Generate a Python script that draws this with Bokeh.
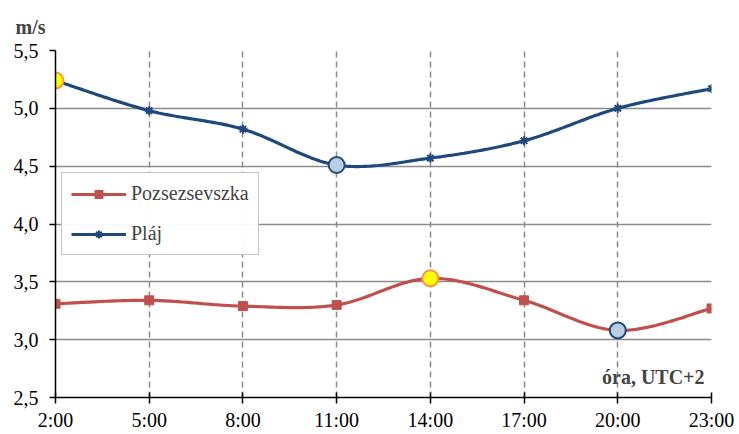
import numpy as np
from bokeh.plotting import figure
from bokeh.models import Range1d, FixedTicker, Label, Legend, LegendItem, ColumnDataSource
from bokeh.embed import file_html
from bokeh.resources import INLINE

hours = [2, 5, 8, 11, 14, 17, 20, 23]
hour_labels = ["2:00", "5:00", "8:00", "11:00", "14:00", "17:00", "20:00", "23:00"]
pozsezsevszka = [3.31, 3.34, 3.29, 3.30, 3.53, 3.34, 3.08, 3.27]
plaj = [5.24, 4.98, 4.82, 4.51, 4.57, 4.72, 5.00, 5.17]
y_ticks = [2.5, 3.0, 3.5, 4.0, 4.5, 5.0, 5.5]
y_labels = ["2,5", "3,0", "3,5", "4,0", "4,5", "5,0", "5,5"]

FONT = "Liberation Serif"
FS = "20px"
RED = "#C0504D"
BLUE = "#1F497D"


def smooth(xs, ys, n=40):
    # Excel-like smoothed line: Catmull-Rom style Bezier segments
    xs = np.asarray(xs, float)
    ys = np.asarray(ys, float)
    px = np.concatenate([[xs[0]], xs, [xs[-1]]])
    py = np.concatenate([[ys[0]], ys, [ys[-1]]])
    outx, outy = [], []
    t = np.linspace(0, 1, n)
    for i in range(1, len(px) - 2):
        p0 = np.array([px[i], py[i]])
        p3 = np.array([px[i + 1], py[i + 1]])
        c1 = p0 + (np.array([px[i + 1], py[i + 1]]) - np.array([px[i - 1], py[i - 1]])) / 6.0
        c2 = p3 - (np.array([px[i + 2], py[i + 2]]) - np.array([px[i], py[i]])) / 6.0
        b = ((1 - t) ** 3)[:, None] * p0 + (3 * (1 - t) ** 2 * t)[:, None] * c1 \
            + (3 * (1 - t) * t ** 2)[:, None] * c2 + (t ** 3)[:, None] * p3
        outx.extend(b[:, 0])
        outy.extend(b[:, 1])
    return outx, outy


p = figure(width=739, height=434, output_backend="svg", toolbar_location=None,
           x_range=Range1d(2, 23), y_range=Range1d(2.5, 5.5),
           min_border_left=55, min_border_right=28, min_border_top=50, min_border_bottom=37)
p.outline_line_color = None

p.title.text = "m/s"
p.title.text_font = FONT
p.title.text_font_size = FS
p.title.text_font_style = "bold"
p.title.align = "left"
p.title.offset = -40
p.title.standoff = 25

p.xaxis.ticker = FixedTicker(ticks=hours)
p.xaxis.major_label_overrides = {h: l for h, l in zip(hours, hour_labels)}
p.yaxis.ticker = FixedTicker(ticks=y_ticks)
p.yaxis.major_label_overrides = {t: l for t, l in zip(y_ticks, y_labels)}
for ax in (p.xaxis, p.yaxis):
    ax.axis_line_color = "black"
    ax.axis_line_width = 1.5
    ax.major_tick_line_color = "black"
    ax.major_tick_line_width = 1.5
    ax.minor_tick_line_color = None
    ax.major_label_text_font = FONT
    ax.major_label_text_font_size = FS
    ax.major_label_text_color = "black"
p.xaxis.major_tick_in = 5
p.xaxis.major_tick_out = 6
p.yaxis.major_tick_in = 0
p.yaxis.major_tick_out = 6
p.xaxis.major_label_standoff = 5
p.yaxis.major_label_standoff = 11

p.ygrid.grid_line_color = "#8C8C8C"
p.ygrid.grid_line_width = 1.5
p.xgrid.grid_line_color = "#8C8C8C"
p.xgrid.grid_line_width = 1.5
p.xgrid.grid_line_dash = "6 4"

sx, sy = smooth(hours, pozsezsevszka)
r_line = p.line(sx, sy, line_color=RED, line_width=3.2)
r_pts = p.scatter(hours, pozsezsevszka, marker="square", size=9, fill_color=RED, line_color=RED)
bx, by = smooth(hours, plaj)
b_line = p.line(bx, by, line_color=BLUE, line_width=3.2)
b_pts = p.scatter(hours, plaj, marker="asterisk", size=9, line_color=BLUE, line_width=2)

# highlight max / min
hx, hy, hf, hl = [], [], [], []
for series in (pozsezsevszka, plaj):
    imax = int(np.argmax(series))
    imin = int(np.argmin(series))
    hx += [hours[imax], hours[imin]]
    hy += [series[imax], series[imin]]
    hf += ["#FFFF00", "#B9CDE5"]
    hl += ["#F79646", BLUE]
src = ColumnDataSource(dict(x=hx, y=hy, f=hf, l=hl))
p.scatter("x", "y", source=src, marker="circle", size=16, fill_color="f", line_color="l", line_width=2)

legend = Legend(items=[LegendItem(label="Pozsezsevszka", renderers=[r_line, r_pts]),
                       LegendItem(label="Pláj", renderers=[b_line, b_pts])],
                location=(6, 142))
legend.label_text_font = FONT
legend.label_text_font_size = FS
legend.border_line_color = "#8C8C8C"
legend.border_line_width = 1.5
legend.glyph_width = 55
legend.glyph_height = 20
legend.label_height = 20
legend.spacing = 17
legend.padding = 9
legend.margin = 0
legend.label_standoff = 5
p.add_layout(legend, "center")

p.add_layout(Label(x=649, y=10, x_units="screen", y_units="screen", text="óra, UTC+2",
                   text_font=FONT, text_font_size=FS, text_font_style="bold", text_align="right"))

open("out.html", "w").write(file_html(p, INLINE))
